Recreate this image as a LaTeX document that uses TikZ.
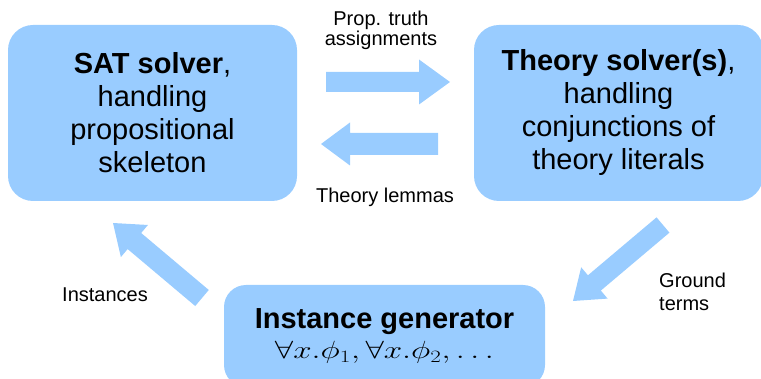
\documentclass[tikz,border=0pt]{standalone}
\usepackage{fontspec}
\setmainfont{Liberation Sans}
\usetikzlibrary{calc}
\definecolor{boxblue}{RGB}{153,204,255}
\tikzset{
  box/.style={fill=boxblue, rounded corners=25pt, inner sep=0pt, align=center,
    font=\fontsize{29}{33}\selectfont},
  lbl/.style={font=\fontsize{20}{20.5}\selectfont, inner sep=0pt},
  arrowfill/.style={fill=boxblue}
}
% #1 tail, #2 tip, #3 half shaft width, #4 half head width, #5 head length
\newcommand\blockarrow[5]{%
  \coordinate (ba-h) at ($(#2)!#5!(#1)$);
  \fill[arrowfill] ($(#1)!#3!90:(#2)$) -- ($(ba-h)!#3!90:(#2)$) -- ($(ba-h)!#4!90:(#2)$)
    -- (#2) -- ($(ba-h)!#4!-90:(#2)$) -- ($(ba-h)!#3!-90:(#2)$) -- ($(#1)!#3!-90:(#2)$) -- cycle;}
\begin{document}
\begin{tikzpicture}[x=1pt,y=-1pt]
\useasboundingbox (0,0) rectangle (761,379);
% boxes
\node[box, minimum width=289pt, minimum height=176pt] (sat) at (152.5,113)
  {\textbf{SAT solver},\\handling\\propositional\\skeleton};
\node[box, minimum width=289pt, minimum height=176pt] (thy) at (618.5,113)
  {\textbf{Theory solver(s)},\\handling\\conjunctions of\\theory literals};
\node[box, rounded corners=22pt, minimum width=321pt, minimum height=102pt] (gen) at (384.5,336)
  {\textbf{Instance generator}\\[-3pt]{\fontsize{26}{30}\selectfont\resizebox{219pt}{\height}{$\forall x.\phi_1,\forall x.\phi_2,\ldots$}}};
% labels
\node[lbl, align=center, anchor=north] (prop) at (381,10.7) {Prop. truth\\assignments};
\node[lbl, anchor=base] (lem) at (385,203) {Theory lemmas};
\node[lbl, align=left, anchor=north west, font=\fontsize{20}{23}\selectfont] (gt) at (659,272.7) {Ground\\terms};
\node[lbl, anchor=base west] (inst) at (62,302) {Instances};
% arrow end points
\coordinate (a1t) at (326,82);  \coordinate (a1h) at (450,82);
\coordinate (a2t) at (438,144); \coordinate (a2h) at (321,144);
\coordinate (a3t) at (663,225); \coordinate (a3h) at (573,301);
\coordinate (a4t) at (202,298); \coordinate (a4h) at (113,223);
\blockarrow{a1t}{a1h}{10pt}{22.5pt}{31pt}
\blockarrow{a2t}{a2h}{11pt}{21.5pt}{29pt}
\blockarrow{a3t}{a3h}{10pt}{20.5pt}{28pt}
\blockarrow{a4t}{a4h}{10.5pt}{21pt}{28pt}
\end{tikzpicture}
\end{document}
